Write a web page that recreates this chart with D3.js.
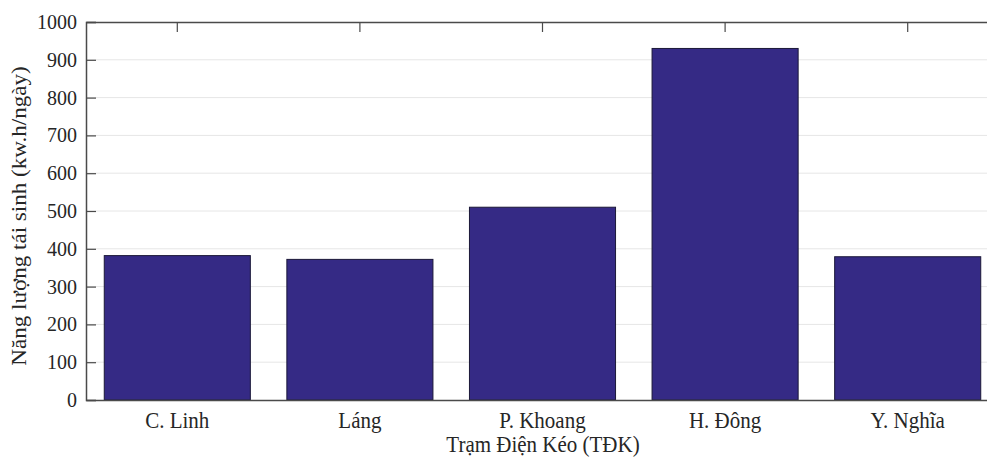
<!DOCTYPE html>
<html><head><meta charset="utf-8">
<script src="https://cdn.jsdelivr.net/npm/d3@7"></script>
<style>body{margin:0;background:#fff}svg{display:block}text{font-family:"Liberation Serif","Times New Roman",serif}</style>
</head><body>
<svg id="c" width="987" height="457"></svg>
<script>
const categories = ["C. Linh", "Láng", "P. Khoang", "H. Đông", "Y. Nghĩa"];
const values = [382, 372, 510, 930, 379];
const yTicks = [0,100,200,300,400,500,600,700,800,900,1000];

const svg = d3.select("#c");
const L = 86, R = 999, T = 22, B = 400;
const x = d3.scaleBand().domain(categories).range([L, R]).paddingInner(0.2).paddingOuter(0.1);
const y = d3.scaleLinear().domain([0, 1000]).range([B, T]);
const axisCol = "#4a4a4a", textCol = "#262626";

// grid
svg.append("g").selectAll("line").data(yTicks.slice(1,-1)).join("line")
  .attr("x1", L).attr("x2", R).attr("y1", d=>y(d)).attr("y2", d=>y(d))
  .attr("stroke", "#e6e6e6").attr("stroke-width", 1);

// bars
svg.append("g").selectAll("rect").data(values).join("rect")
  .attr("x", (d,i)=>x(categories[i])).attr("width", x.bandwidth())
  .attr("y", d=>y(d)).attr("height", d=>B - y(d))
  .attr("fill", "#352a85").attr("stroke", "#1b1838").attr("stroke-width", 1);

// left axis
const ya = svg.append("g").attr("transform", `translate(${L},0)`)
  .call(d3.axisLeft(y).tickValues(yTicks).tickSize(-10).tickPadding(9).tickFormat(d3.format("d")));
ya.select(".domain").attr("stroke", axisCol).attr("stroke-width", 1.5);
ya.selectAll(".tick line").attr("stroke", axisCol).attr("stroke-width", 1.2);
ya.selectAll(".tick text").attr("fill", textCol).attr("font-size", 20).attr("font-family", "Liberation Serif");

// bottom axis
const xa = svg.append("g").attr("transform", `translate(0,${B})`)
  .call(d3.axisBottom(x).tickSize(0).tickPadding(0).tickSizeOuter(0));
xa.select(".domain").attr("stroke", axisCol).attr("stroke-width", 1.5);
xa.selectAll(".tick text").attr("fill", textCol).attr("font-size", 21).attr("font-family", "Liberation Serif")
  .attr("dy", 0).attr("y", 0).attr("transform", "translate(0,28) scale(1,1.05)");

// top axis
const ta = svg.append("g").attr("transform", `translate(0,${T})`)
  .call(d3.axisTop(x).tickSize(-10).tickFormat("").tickSizeOuter(0));
ta.select(".domain").attr("stroke", axisCol).attr("stroke-width", 1.5);
ta.selectAll(".tick line").attr("stroke", axisCol).attr("stroke-width", 1.2);

// labels
svg.append("text").attr("transform", `translate(543,452) scale(1,1.05)`).attr("text-anchor", "middle")
  .attr("font-size", 21).attr("fill", textCol).text("Trạm Điện Kéo (TĐK)");
svg.append("text").attr("transform", `translate(26,216) rotate(-90) scale(1.1,1)`).attr("text-anchor", "middle")
  .attr("font-size", 21).attr("fill", textCol).text("Năng lượng tái sinh (kw.h/ngày)");
</script>
</body></html>
